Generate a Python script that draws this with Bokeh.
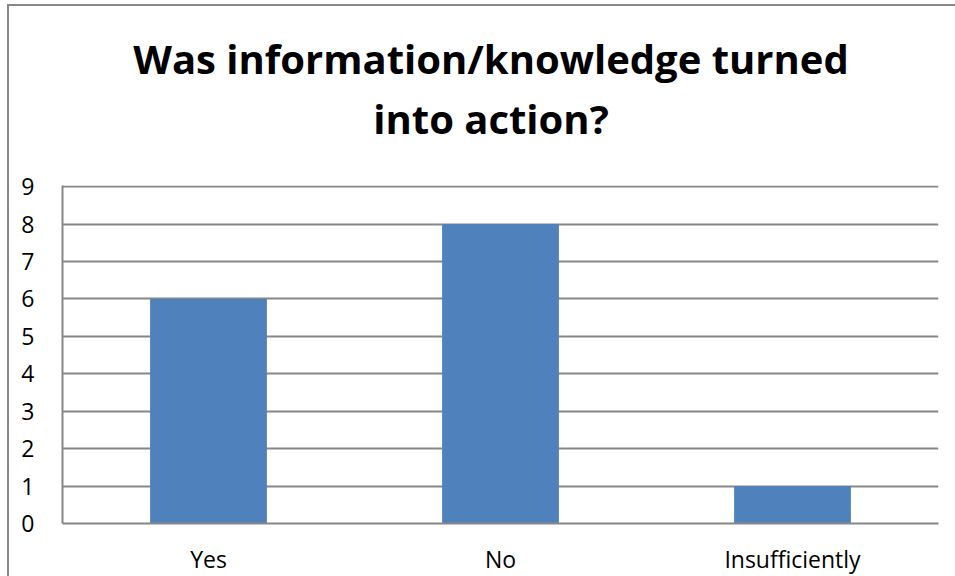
from bokeh.plotting import figure
from bokeh.models import FixedTicker, Range1d, Div
from bokeh.layouts import column
from bokeh.embed import file_html
from bokeh.resources import INLINE

categories = ["Yes", "No", "Insufficiently"]
counts = [6, 8, 1]
y_ticks = [0, 1, 2, 3, 4, 5, 6, 7, 8, 9]
title_lines = ["Was information/knowledge turned", "into action?"]

FONT = "Open Sans"

title_html = (
    '<div style="padding-top:18px; text-align:center; font-family:\'Open Sans\'; '
    'font-weight:bold; font-size:40px; line-height:60px; color:black; width:954px;">'
    + "<br>".join(title_lines) + "</div>"
)
title_div = Div(text=title_html, width=954, height=140)

p = figure(x_range=categories, y_range=Range1d(0, 9.03), title=None,
           width=950, height=434, output_backend="svg", toolbar_location=None,
           min_border_left=53, min_border_right=21, min_border_top=29, min_border_bottom=67)

p.vbar(x=categories, top=counts, width=0.4, color="#4F81BD", line_color=None)

p.outline_line_color = None
p.xgrid.grid_line_color = None
p.ygrid.grid_line_color = "#878787"
p.ygrid.grid_line_width = 2
p.ygrid.ticker = FixedTicker(ticks=y_ticks)

p.yaxis.ticker = FixedTicker(ticks=y_ticks)
for ax in (p.xaxis[0], p.yaxis[0]):
    ax.axis_line_color = "#878787"
    ax.axis_line_width = 2
    ax.major_tick_line_color = None
    ax.minor_tick_line_color = None
    ax.major_label_text_font = FONT
    ax.major_label_text_font_size = "23px"
    ax.major_label_text_color = "black"
p.yaxis.major_label_standoff = 22
p.xaxis.major_label_standoff = 13

layout = column(title_div, p, spacing=0)
layout.margin = (4, 0, 0, 7)
layout.styles = {"border": "2px solid #878787"}

open("out.html", "w").write(file_html(layout, INLINE))
